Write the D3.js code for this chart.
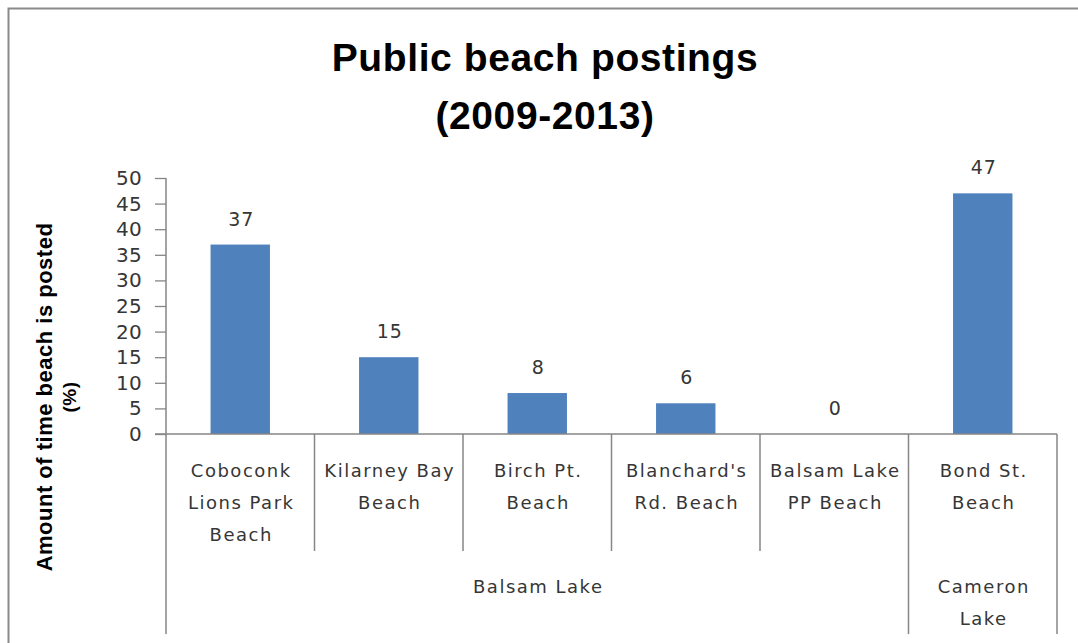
<!DOCTYPE html>
<html>
<head>
<meta charset="utf-8">
<script src="https://cdn.jsdelivr.net/npm/d3@7"></script>
<style>
  html, body { margin: 0; padding: 0; background: #fff; }
  svg { display: block; }
</style>
</head>
<body>
<svg id="chart" width="1078" height="643"></svg>
<script>
// ---- data ----
const categories = [
  "Coboconk Lions Park Beach",
  "Kilarney Bay Beach",
  "Birch Pt. Beach",
  "Blanchard's Rd. Beach",
  "Balsam Lake PP Beach",
  "Bond St. Beach"
];
const categoryLines = [
  ["Coboconk", "Lions Park", "Beach"],
  ["Kilarney Bay", "Beach"],
  ["Birch Pt.", "Beach"],
  ["Blanchard's", "Rd. Beach"],
  ["Balsam Lake", "PP Beach"],
  ["Bond St.", "Beach"]
];
const values = [37, 15, 8, 6, 0, 47];
const groups = ["Balsam Lake", "Cameron Lake"];
const groupLines = [["Balsam Lake"], ["Cameron", "Lake"]];
const groupSizes = [5, 1];
const yTicks = [0, 5, 10, 15, 20, 25, 30, 35, 40, 45, 50];
const titleLines = ["Public beach postings", "(2009-2013)"];
const yTitleLines = ["Amount of time beach is posted", "(%)"];

// ---- layout ----
const svg = d3.select("#chart");
const axisColor = "#868686";
const textColor = "#363636";
const labelFont = "'DejaVu Sans', sans-serif";

// outer chart border (extends past the visible frame)
svg.append("rect")
  .attr("x", 8.5).attr("y", 8.5)
  .attr("width", 1100).attr("height", 700)
  .attr("fill", "none").attr("stroke", "#8a8a8a").attr("stroke-width", 2);

const x = d3.scaleBand().domain(categories).range([166, 1057]).paddingInner(0).paddingOuter(0);
const y = d3.scaleLinear().domain([0, 50]).range([434, 178]);

// title
svg.append("g").selectAll("text").data(titleLines).join("text")
  .attr("x", 545)
  .attr("y", (d, i) => 71 + i * 58)
  .attr("text-anchor", "middle")
  .attr("font-family", "'Liberation Sans', Arial, sans-serif")
  .attr("font-weight", "bold")
  .attr("font-size", 39)
  .attr("letter-spacing", 0.6)
  .attr("fill", "#000")
  .text(d => d);

// y axis title
svg.append("g").selectAll("text").data(yTitleLines).join("text")
  .attr("transform", (d, i) => `translate(${52 + i * 24},397) rotate(-90)`)
  .attr("text-anchor", "middle")
  .attr("font-family", "'Liberation Sans', Arial, sans-serif")
  .attr("font-weight", "bold")
  .attr("font-size", (d, i) => i === 0 ? 22 : 19)
  .attr("letter-spacing", 0.5)
  .attr("fill", "#000")
  .text(d => d);

// y axis
const yAxis = svg.append("g")
  .attr("transform", "translate(166,0)")
  .call(d3.axisLeft(y).tickValues(yTicks).tickSize(11).tickPadding(13).tickFormat(d3.format("d")));
yAxis.select(".domain").remove();
yAxis.selectAll(".tick line").attr("stroke", axisColor).attr("stroke-width", 1.3);
yAxis.selectAll(".tick text")
  .attr("font-family", labelFont)
  .attr("font-size", 20)
  .attr("letter-spacing", 0.3)
  .attr("fill", textColor);

// bars
const barW = x.bandwidth() * 0.4;
svg.append("g").selectAll("rect").data(values).join("rect")
  .attr("x", (d, i) => x(categories[i]) + (x.bandwidth() - barW) / 2)
  .attr("y", d => y(d))
  .attr("width", barW)
  .attr("height", d => y(0) - y(d))
  .attr("fill", "#4F81BD");

// data labels
svg.append("g").selectAll("text").data(values).join("text")
  .attr("x", (d, i) => x(categories[i]) + x.bandwidth() / 2 + 1)
  .attr("y", d => y(d) - 19)
  .attr("text-anchor", "middle")
  .attr("font-family", labelFont)
  .attr("font-size", 19)
  .attr("letter-spacing", 1)
  .attr("fill", textColor)
  .text(d => d);

// axis lines
const lines = svg.append("g").attr("stroke", axisColor).attr("stroke-width", 1.5).attr("fill", "none");
// y axis vertical (extends into group area)
lines.append("line").attr("x1", 166).attr("x2", 166).attr("y1", y(50)).attr("y2", 634);
// x axis line
lines.append("line").attr("x1", 155).attr("x2", 1057).attr("y1", y(0)).attr("y2", y(0));
// category dividers
const boundaries = categories.map(c => x(c)).concat([x.range()[1]]);
let groupStarts = [0];
groupSizes.forEach((s, i) => groupStarts.push(groupStarts[i] + s));
boundaries.forEach((bx, i) => {
  if (i === 0) return;
  const isGroup = groupStarts.includes(i);
  lines.append("line").attr("x1", bx).attr("x2", bx)
    .attr("y1", y(0)).attr("y2", isGroup ? 634 : 551);
});

// category labels
const catG = svg.append("g");
categoryLines.forEach((ls, i) => {
  catG.append("g").selectAll("text").data(ls).join("text")
    .attr("x", x(categories[i]) + x.bandwidth() / 2 + 1)
    .attr("y", (d, j) => 477 + j * 32)
    .attr("text-anchor", "middle")
    .attr("font-family", labelFont)
    .attr("font-size", 18)
    .attr("letter-spacing", 1.5)
    .attr("fill", textColor)
    .text(d => d);
});

// group labels
const grpG = svg.append("g");
groups.forEach((g, i) => {
  const x0 = boundaries[groupStarts[i]];
  const x1 = boundaries[groupStarts[i + 1]];
  grpG.append("g").selectAll("text").data(groupLines[i]).join("text")
    .attr("x", (x0 + x1) / 2 + 1)
    .attr("y", (d, j) => 593 + j * 32)
    .attr("text-anchor", "middle")
    .attr("font-family", labelFont)
    .attr("font-size", 18)
    .attr("letter-spacing", 1.5)
    .attr("fill", textColor)
    .text(d => d);
});
</script>
</body>
</html>
